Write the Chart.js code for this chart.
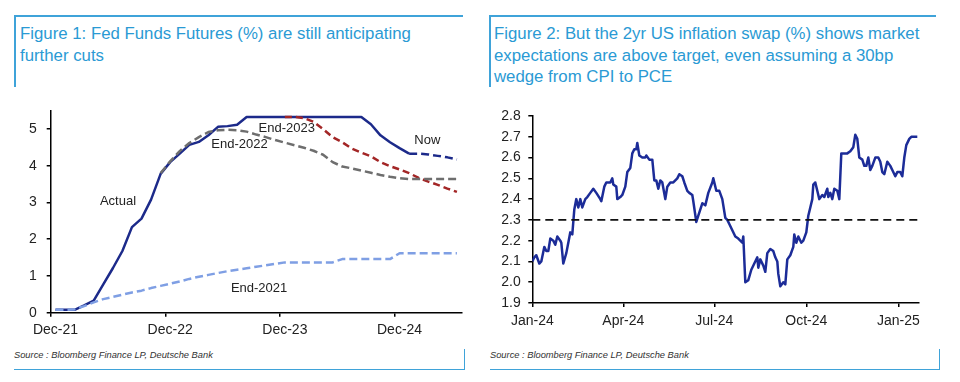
<!DOCTYPE html>
<html><head><meta charset="utf-8">
<script src="https://cdn.jsdelivr.net/npm/chart.js@4.4.1/dist/chart.umd.min.js"></script>
<style>
html,body{margin:0;padding:0;background:#fff;}
body{width:960px;height:382px;position:relative;overflow:hidden;font-family:"Liberation Sans",Arial,sans-serif;}
.ln{position:absolute;background:#3fa3d9;}
.title{position:absolute;color:#2a9ad4;font-size:16.8px;line-height:21.5px;white-space:nowrap;}
.src{position:absolute;font-style:italic;font-size:9.3px;line-height:11px;color:#333;white-space:nowrap;}
canvas{position:absolute;}
</style></head><body>
<div class="ln" style="left:14px;top:15px;width:449px;height:1.5px"></div>
<div class="ln" style="left:14px;top:15px;width:1.5px;height:72px"></div>
<div class="title" style="left:20px;top:23px">Figure 1: Fed Funds Futures (%) are still anticipating<br>further cuts</div>
<div class="src" style="left:14px;top:349.5px">Source : Bloomberg Finance LP, Deutsche Bank</div>
<div class="ln" style="left:14px;top:368.5px;width:451px;height:1.5px"></div>
<div class="ln" style="left:463.5px;top:349px;width:1.5px;height:21px"></div>

<div class="ln" style="left:489px;top:15px;width:447px;height:1.5px"></div>
<div class="ln" style="left:489px;top:15px;width:1.5px;height:72px"></div>
<div class="title" style="left:494px;top:23px">Figure 2: But the 2yr US inflation swap (%) shows market<br>expectations are above target, even assuming a 30bp<br>wedge from CPI to PCE</div>
<div class="src" style="left:490px;top:349.5px">Source : Bloomberg Finance LP, Deutsche Bank</div>
<div class="ln" style="left:490px;top:368.5px;width:450px;height:1.5px"></div>
<div class="ln" style="left:938.5px;top:349px;width:1.5px;height:21px"></div>

<canvas id="c1" width="480" height="255" style="left:0;top:90px"></canvas>
<canvas id="c2" width="480" height="255" style="left:480px;top:90px"></canvas>
<script>
// ---------- Figure 1 data ----------
const ffMonths = ['Dec-21',
 'Jan-22','Feb-22','Mar-22','Apr-22','May-22','Jun-22','Jul-22','Aug-22','Sep-22','Oct-22','Nov-22','Dec-22',
 'Jan-23','Feb-23','Mar-23','Apr-23','May-23','Jun-23','Jul-23','Aug-23','Sep-23','Oct-23','Nov-23','Dec-23',
 'Jan-24','Feb-24','Mar-24','Apr-24','May-24','Jun-24','Jul-24','Aug-24','Sep-24','Oct-24','Nov-24','Dec-24',
 'Jan-25','Feb-25','Mar-25','Apr-25','May-25','Jun-25'];
const ffTickLabels = ['Dec-21','Dec-22','Dec-23','Dec-24'];
const ffYTicks = [0,1,2,3,4,5];

const actualStart = 'Dec-21';
const actual = [0.08,0.08,0.08,0.20,0.33,0.77,1.21,1.68,2.33,2.56,
 3.08,3.78,4.10,4.33,4.57,4.65,4.83,5.06,5.08,5.12,
 5.33,5.33,5.33,5.33,5.33,5.33,5.33,5.33,5.33,5.33,
 5.33,5.33,5.33,5.13,4.83,4.64,4.48,4.33];
const nowStart = 'Jan-25';
const nowCurve = [4.33,4.33,4.31,4.27,4.23,4.17];
const end2021Start = 'Dec-21';
const end2021 = [0.08,0.08,0.09,0.18,0.28,0.37,0.43,0.49,0.55,0.60,
 0.67,0.73,0.79,0.85,0.92,0.98,1.03,1.08,1.13,1.17,
 1.21,1.25,1.29,1.33,1.37,1.37,1.37,1.37,1.37,1.37,
 1.46,1.46,1.46,1.46,1.46,1.46,1.62,1.62,1.62,1.62,
 1.62,1.62,1.62];
const end2022Start = 'Nov-22';
const end2022 = [3.80,4.12,4.40,4.62,4.78,4.92,4.97,4.98,4.97,4.93,
 4.85,4.78,4.70,4.63,4.56,4.49,4.41,4.30,4.10,3.98,
 3.93,3.87,3.81,3.75,3.70,3.66,3.64,3.64,3.64,3.64,
 3.64,3.64];
const end2023Start = 'Dec-23';
const end2023 = [5.33,5.33,5.30,5.20,5.00,4.78,4.64,4.47,4.36,4.26,
 4.10,3.99,3.90,3.80,3.67,3.57,3.48,3.38,3.29];

// text notes (x = category position, y = value)
const ffNotes = ['Actual','End-2021','End-2022','End-2023','Now'];
const ffNoteX = [6.54, 21.3, 19.25, 24.2, 38.9];
const ffNoteY = [3.04, 0.67, 4.59, 5.03, 4.69];

// ---------- Figure 2 data ----------
const swapDays = [0,2,4,7,9,12,14,16,18,21,
 23,25,28,29,31,34,36,38,40,42,
 44,46,48,50,53,55,58,61,64,68,
 69,72,74,78,80,81,84,85,88,90,
 93,95,98,100,102,104,105,107,110,113,
 114,117,120,122,124,126,128,130,133,135,
 138,141,145,147,150,152,155,157,160,161,
 164,166,170,173,176,180,181,184,187,190,
 193,195,197,200,203,206,210,211,213,216,
 219,222,225,226,228,231,233,235,238,241,
 243,245,246,248,251,253,255,258,261,262,
 264,266,269,271,274,276,278,280,281,283,
 285,287,290,292,295,296,298,300,302,305,
 307,309,311,315,318,321,323,325,327,330,
 332,334,336,338,340,343,346,348,350,352,
 355,358,360,363,365,368,370,372,374,377,
 379,382,385];
const swapValues = [2.10,2.12,2.13,2.09,2.10,2.17,2.15,2.15,2.21,2.20,
 2.18,2.22,2.20,2.19,2.09,2.14,2.19,2.24,2.23,2.35,
 2.40,2.36,2.40,2.36,2.40,2.41,2.43,2.45,2.43,2.40,
 2.39,2.46,2.48,2.48,2.50,2.47,2.46,2.40,2.41,2.42,
 2.46,2.53,2.55,2.62,2.64,2.64,2.67,2.61,2.60,2.60,
 2.61,2.59,2.59,2.49,2.49,2.45,2.49,2.48,2.40,2.46,
 2.48,2.48,2.50,2.52,2.51,2.48,2.44,2.43,2.42,2.39,
 2.29,2.32,2.38,2.37,2.43,2.48,2.50,2.44,2.44,2.40,
 2.31,2.30,2.28,2.25,2.22,2.21,2.19,2.22,2.00,2.01,
 2.06,2.09,2.12,2.07,2.11,2.08,2.05,2.14,2.16,2.15,
 2.12,2.10,2.04,1.98,2.00,1.99,2.11,2.13,2.17,2.23,
 2.19,2.22,2.19,2.20,2.24,2.32,2.36,2.40,2.47,2.48,
 2.44,2.40,2.42,2.41,2.45,2.41,2.43,2.40,2.45,2.44,
 2.40,2.62,2.62,2.62,2.63,2.65,2.71,2.69,2.60,2.59,
 2.56,2.56,2.60,2.54,2.56,2.60,2.60,2.58,2.53,2.52,
 2.58,2.56,2.54,2.51,2.53,2.53,2.51,2.60,2.66,2.69,
 2.70,2.70,2.70];
const swapTarget = 2.3;
const swapRange = [0, 386];            // days since 1 Jan 2024
const swapTickDays = [0, 91, 182, 274, 366];
const swapTickLabels = ['Jan-24','Apr-24','Jul-24','Oct-24','Jan-25'];
const swapYTicks = [1.9,2.0,2.1,2.2,2.3,2.4,2.5,2.6,2.7,2.8];

// ---------- rendering ----------
const FONT = "'Liberation Sans', Arial, sans-serif";
Chart.defaults.font.family = FONT;
Chart.defaults.color = '#222';

function monthSeries(startLabel, arr) {
  const s = ffMonths.indexOf(startLabel);
  return ffMonths.map((_, i) => (i >= s && i - s < arr.length) ? arr[i - s] : null);
}
function lineDs(data, color, dash) {
  return {data, borderColor: color, borderWidth: 2.5, borderDash: dash, pointRadius: 0,
          tension: 0, fill: false, borderCapStyle: 'butt', borderJoinStyle: 'round'};
}
const axisCommon = {
  border: {display: true, color: '#000', width: 1.5},
};

const notesPlugin = {
  id: 'notes',
  afterDatasetsDraw(chart) {
    const {ctx, scales: {x, y}} = chart;
    ctx.save();
    ctx.font = '13px ' + FONT;
    ctx.fillStyle = '#222';
    ctx.textAlign = 'center';
    ctx.textBaseline = 'middle';
    ffNotes.forEach((t, i) => ctx.fillText(t, x.getPixelForValue(ffNoteX[i]), y.getPixelForValue(ffNoteY[i])));
    ctx.restore();
  }
};

new Chart(document.getElementById('c1'), {
  type: 'line',
  data: {
    labels: ffMonths,
    datasets: [
      lineDs(monthSeries(end2021Start, end2021), '#7f9fe4', [8, 4]),
      lineDs(monthSeries(end2022Start, end2022), '#6e6e6e', [8, 4]),
      lineDs(monthSeries(end2023Start, end2023), '#a32626', [7, 4]),
      lineDs(monthSeries(nowStart, nowCurve), '#1c2a8a', [8, 4]),
      lineDs(monthSeries(actualStart, actual), '#1c2a8a', [])
    ]
  },
  options: {
    responsive: false, animation: false, devicePixelRatio: 1,
    layout: {padding: {top: 20.7, right: 18.3, left: 0, bottom: 0}},
    plugins: {legend: {display: false}, tooltip: {enabled: false}},
    scales: {
      x: {
        type: 'category', offset: true, ...axisCommon,
        grid: {offset: true, drawOnChartArea: false, drawTicks: true, tickLength: 4, lineWidth: 1.5,
               color: c => ffTickLabels.includes(ffMonths[c.index]) ? '#000' : 'rgba(0,0,0,0)'},
        ticks: {autoSkip: false, maxRotation: 0, minRotation: 0, padding: 5, font: {size: 14}, color: '#222',
                callback: (v, i) => ffTickLabels.includes(ffMonths[i]) ? ffMonths[i] : ''},
        afterFit(s) { s.height = 32.3; }
      },
      y: {
        min: 0, max: 5.5, ...axisCommon,
        afterBuildTicks(s) { s.ticks = ffYTicks.map(v => ({value: v})); },
        grid: {drawOnChartArea: false, drawTicks: true, tickLength: 4, lineWidth: 1.5, color: '#000'},
        ticks: {padding: 10, font: {size: 14}, color: '#222', callback: v => String(v)},
        afterFit(s) { s.width = 50.7; }
      }
    }
  },
  plugins: [notesPlugin]
});

new Chart(document.getElementById('c2'), {
  type: 'line',
  data: {
    datasets: [
      {data: swapRange.map(d => ({x: d, y: swapTarget})), borderColor: '#111', borderWidth: 1.6,
       borderDash: [8, 5], pointRadius: 0, tension: 0},
      {data: swapDays.map((d, i) => ({x: d, y: swapValues[i]})), borderColor: '#1c2c98', borderWidth: 2.5,
       pointRadius: 0, tension: 0, borderJoinStyle: 'round'}
    ]
  },
  options: {
    responsive: false, animation: false, devicePixelRatio: 1,
    layout: {padding: {top: 26, right: 41.7, left: 0, bottom: 0}},
    plugins: {legend: {display: false}, tooltip: {enabled: false}},
    scales: {
      x: {
        type: 'linear', min: swapRange[0], max: swapRange[1], ...axisCommon,
        afterBuildTicks(s) { s.ticks = swapTickDays.map(v => ({value: v})); },
        grid: {drawOnChartArea: false, drawTicks: true, tickLength: 4, lineWidth: 1.5, color: '#000'},
        ticks: {autoSkip: false, maxRotation: 0, padding: 6.2, font: {size: 14}, color: '#222',
                callback: v => swapTickLabels[swapTickDays.indexOf(v)]},
        afterFit(s) { s.height = 42; }
      },
      y: {
        min: 1.9, max: 2.8, ...axisCommon,
        afterBuildTicks(s) { s.ticks = swapYTicks.map(v => ({value: v})); },
        grid: {drawOnChartArea: false, drawTicks: true, tickLength: 4, lineWidth: 1.5, color: '#000'},
        ticks: {padding: 7.6, font: {size: 14}, color: '#222', callback: v => v.toFixed(1)},
        afterFit(s) { s.width = 52.3; }
      }
    }
  }
});
</script>
</body></html>
